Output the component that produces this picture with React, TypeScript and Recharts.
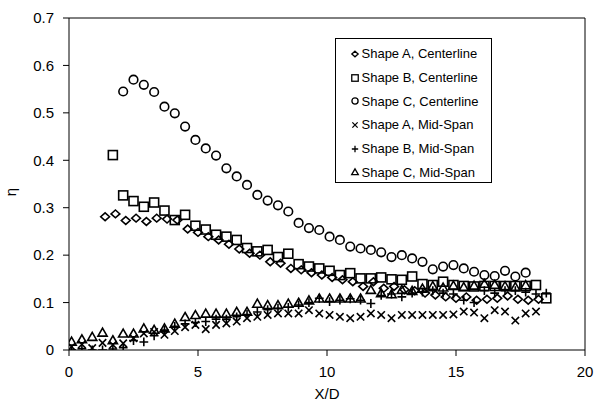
import React from 'react';
import { ScatterChart, Scatter, XAxis, YAxis, ReferenceLine, Legend } from 'recharts';

// [X/D, eta] pairs
const shapeACenterline: [number, number][] = [
  [1.4, 0.281], [1.8, 0.287], [2.2, 0.273], [2.6, 0.278], [3.0, 0.271], [3.4, 0.278], [3.8, 0.276], [4.2, 0.274],
  [4.6, 0.255], [5.0, 0.248], [5.4, 0.239], [5.8, 0.232], [6.2, 0.223], [6.6, 0.213], [7.0, 0.204], [7.4, 0.2],
  [7.8, 0.186], [8.2, 0.183], [8.6, 0.172], [9.0, 0.169], [9.4, 0.163], [9.8, 0.158], [10.2, 0.153], [10.6, 0.148],
  [11.0, 0.144], [11.4, 0.134], [11.8, 0.144], [12.2, 0.13], [12.6, 0.134], [13.0, 0.127], [13.4, 0.125], [13.8, 0.12],
  [14.2, 0.116], [14.6, 0.112], [15.0, 0.109], [15.4, 0.112], [15.8, 0.105], [16.2, 0.107], [16.6, 0.109], [17.0, 0.114],
  [17.4, 0.107], [17.8, 0.105], [18.2, 0.107],
];

const shapeBCenterline: [number, number][] = [
  [1.7, 0.411], [2.1, 0.326], [2.5, 0.314], [2.9, 0.302], [3.3, 0.311], [3.7, 0.294], [4.1, 0.274], [4.5, 0.285],
  [4.9, 0.262], [5.3, 0.254], [5.7, 0.243], [6.1, 0.239], [6.5, 0.232], [6.9, 0.215], [7.3, 0.208], [7.7, 0.211],
  [8.1, 0.196], [8.5, 0.203], [8.9, 0.181], [9.3, 0.176], [9.7, 0.172], [10.1, 0.167], [10.5, 0.158], [10.9, 0.162],
  [11.3, 0.151], [11.7, 0.151], [12.1, 0.153], [12.5, 0.149], [12.9, 0.148], [13.3, 0.155], [13.7, 0.139], [14.1, 0.137],
  [14.5, 0.144], [14.9, 0.137], [15.3, 0.135], [15.7, 0.134], [16.1, 0.135], [16.5, 0.135], [16.9, 0.135], [17.3, 0.135],
  [17.7, 0.135], [18.1, 0.137], [18.5, 0.109],
];

const shapeCCenterline: [number, number][] = [
  [2.1, 0.545], [2.5, 0.57], [2.9, 0.559], [3.3, 0.544], [3.7, 0.513], [4.1, 0.499], [4.5, 0.471], [4.9, 0.443],
  [5.3, 0.425], [5.7, 0.41], [6.1, 0.383], [6.5, 0.366], [6.9, 0.348], [7.3, 0.327], [7.7, 0.315], [8.1, 0.305],
  [8.5, 0.292], [8.9, 0.268], [9.3, 0.257], [9.7, 0.253], [10.1, 0.239], [10.5, 0.232], [10.9, 0.218], [11.3, 0.214],
  [11.7, 0.211], [12.1, 0.206], [12.5, 0.196], [12.9, 0.2], [13.3, 0.193], [13.7, 0.186], [14.1, 0.17], [14.5, 0.176],
  [14.9, 0.179], [15.3, 0.172], [15.7, 0.165], [16.1, 0.158], [16.5, 0.156], [16.9, 0.167], [17.3, 0.155], [17.7, 0.163],
];

const shapeAMidSpan: [number, number][] = [
  [0.1, 0.007], [0.5, 0.012], [0.9, 0.004], [1.3, 0.015], [1.7, 0.011], [2.1, 0.014], [2.5, 0.025], [2.9, 0.035],
  [3.3, 0.038], [3.7, 0.032], [4.1, 0.04], [4.5, 0.048], [4.9, 0.053], [5.3, 0.044], [5.7, 0.053], [6.1, 0.056],
  [6.5, 0.06], [6.9, 0.067], [7.3, 0.07], [7.7, 0.074], [8.1, 0.077], [8.5, 0.077], [8.9, 0.077], [9.3, 0.084],
  [9.7, 0.077], [10.1, 0.074], [10.5, 0.07], [10.9, 0.067], [11.3, 0.07], [11.7, 0.077], [12.1, 0.074], [12.5, 0.067],
  [12.9, 0.074], [13.3, 0.074], [13.7, 0.074], [14.1, 0.074], [14.5, 0.074], [14.9, 0.075], [15.3, 0.081], [15.7, 0.079],
  [16.1, 0.067], [16.5, 0.084], [16.9, 0.081], [17.3, 0.062], [17.7, 0.077], [18.1, 0.081],
];

const shapeBMidSpan: [number, number][] = [
  [0.1, 0.0], [0.5, 0.003], [0.9, 0.0], [1.3, 0.0], [1.7, 0.002], [2.1, 0.005], [2.5, 0.02], [2.9, 0.017],
  [3.3, 0.03], [3.7, 0.042], [4.1, 0.05], [4.5, 0.055], [4.9, 0.058], [5.3, 0.06], [5.7, 0.065], [6.1, 0.065],
  [6.5, 0.07], [6.9, 0.075], [7.3, 0.08], [7.7, 0.085], [8.1, 0.088], [8.5, 0.09], [8.9, 0.095], [9.3, 0.1],
  [9.7, 0.109], [10.1, 0.102], [10.5, 0.105], [10.9, 0.108], [11.3, 0.105], [11.7, 0.098], [12.1, 0.115], [12.5, 0.118],
  [12.9, 0.112], [13.3, 0.12], [13.7, 0.122], [14.1, 0.125], [14.5, 0.12], [14.9, 0.118], [15.3, 0.105], [15.7, 0.1],
  [16.1, 0.125], [16.5, 0.12], [16.9, 0.125], [17.3, 0.125], [17.7, 0.122], [18.1, 0.118], [18.5, 0.12],
];

const shapeCMidSpan: [number, number][] = [
  [0.1, 0.018], [0.5, 0.023], [0.9, 0.028], [1.3, 0.037], [1.7, 0.021], [2.1, 0.035], [2.5, 0.035], [2.9, 0.046],
  [3.3, 0.043], [3.7, 0.046], [4.1, 0.056], [4.5, 0.07], [4.9, 0.074], [5.3, 0.077], [5.7, 0.077], [6.1, 0.077],
  [6.5, 0.081], [6.9, 0.081], [7.3, 0.098], [7.7, 0.095], [8.1, 0.095], [8.5, 0.098], [8.9, 0.1], [9.3, 0.105],
  [9.7, 0.109], [10.1, 0.109], [10.5, 0.109], [10.9, 0.109], [11.3, 0.109], [11.7, 0.127], [12.1, 0.12], [12.5, 0.118],
  [12.9, 0.127], [13.3, 0.125], [13.7, 0.13], [14.1, 0.135], [14.5, 0.132], [14.9, 0.136], [15.3, 0.133], [15.7, 0.136],
  [16.1, 0.14], [16.5, 0.138], [16.9, 0.135], [17.3, 0.133], [17.7, 0.137],
];

const xTicks = [0, 5, 10, 15, 20];
const yTicks = [0, 0.1, 0.2, 0.3, 0.4, 0.5, 0.6, 0.7];

const seriesNames = [
  'Shape A, Centerline',
  'Shape B, Centerline',
  'Shape C, Centerline',
  'Shape A, Mid-Span',
  'Shape B, Mid-Span',
  'Shape C, Mid-Span',
];

const toPoints = (arr: [number, number][]) => arr.map(([x, eta]) => ({ x, eta }));

const INK = '#000';
const SW = 1.6;
const FONT = "'Liberation Sans', Arial, Helvetica, sans-serif";

type MarkerKind = 'diamond' | 'square' | 'circle' | 'cross' | 'plus' | 'triangle';

const Marker = ({ kind, cx, cy, s = 1, sw = SW }: { kind: MarkerKind; cx: number; cy: number; s?: number; sw?: number }) => {
  if (cx == null || cy == null) return null;
  const common = { fill: 'none', stroke: INK, strokeWidth: sw };
  switch (kind) {
    case 'diamond': {
      const w = 4.4 * s, h = 3.9 * s;
      return <path d={`M${cx} ${cy - h}L${cx + w} ${cy}L${cx} ${cy + h}L${cx - w} ${cy}Z`} {...common} />;
    }
    case 'square': {
      const h = 4.5 * s;
      return <rect x={cx - h} y={cy - h} width={2 * h} height={2 * h} {...common} />;
    }
    case 'circle':
      return <circle cx={cx} cy={cy} r={4.3 * s} {...common} />;
    case 'cross': {
      const h = 3.7 * s;
      return <path d={`M${cx - h} ${cy - h}L${cx + h} ${cy + h}M${cx - h} ${cy + h}L${cx + h} ${cy - h}`} {...common} />;
    }
    case 'plus': {
      const h = 4.4 * s;
      return <path d={`M${cx - h} ${cy}L${cx + h} ${cy}M${cx} ${cy - h}L${cx} ${cy + h}`} {...common} />;
    }
    case 'triangle': {
      const w = 4.6 * s, h = 4.3 * s;
      return <path d={`M${cx} ${cy - h}L${cx + w} ${cy + h * 0.85}L${cx - w} ${cy + h * 0.85}Z`} {...common} />;
    }
  }
  return null;
};

const kinds: MarkerKind[] = ['diamond', 'square', 'circle', 'cross', 'plus', 'triangle'];
const seriesData = [
  shapeACenterline,
  shapeBCenterline,
  shapeCCenterline,
  shapeAMidSpan,
  shapeBMidSpan,
  shapeCMidSpan,
];

const LegendBox = () => (
  <div
    style={{
      border: '1px solid #000',
      background: '#fff',
      width: 157,
      height: 145,
      boxSizing: 'border-box',
      paddingTop: 3,
      fontFamily: FONT,
      fontSize: 13,
      color: '#000',
    }}
  >
    {seriesNames.map((name, i) => (
      <div key={name} style={{ display: 'flex', alignItems: 'center', height: 23.7 }}>
        <svg width={10} height={10} style={{ marginLeft: 14, flex: 'none' }}>
          <Marker kind={kinds[i]} cx={5} cy={5} s={0.72} sw={1.3} />
        </svg>
        <span style={{ marginLeft: 1.5, whiteSpace: 'nowrap' }}>{name}</span>
      </div>
    ))}
  </div>
);

export default function App() {
  return (
    <div style={{ position: 'absolute', left: 0, top: 0, background: '#fff' }}>
      <ScatterChart width={603} height={402} margin={{ top: 18, right: 18, left: 0, bottom: 0 }}>
        <XAxis
          type="number"
          dataKey="x"
          domain={[0, 20]}
          ticks={xTicks}
          allowDataOverflow
          height={52}
          stroke={INK}
          tickSize={6}
          tickMargin={10}
          tick={{ fill: INK, fontSize: 15, fontFamily: FONT }}
          label={{ value: 'X/D', position: 'insideBottom', offset: 3, fill: INK, fontSize: 15, fontFamily: FONT }}
        />
        <YAxis
          type="number"
          dataKey="eta"
          domain={[0, 0.7]}
          ticks={yTicks}
          allowDataOverflow
          width={69}
          stroke={INK}
          tickSize={6}
          tickMargin={9}
          tick={{ fill: INK, fontSize: 15, fontFamily: FONT }}
          label={{
            content: (props: any) => {
              const vb = props.viewBox || { x: 0, y: 18, width: 69, height: 332 };
              const x = vb.x + 16;
              const y = vb.y + vb.height / 2 + 8;
              return (
                <text x={x} y={y} transform={`rotate(-90 ${x} ${y})`} textAnchor="middle" fill={INK} fontSize={15} fontFamily={FONT}>
                  η
                </text>
              );
            },
          }}
        />
        <ReferenceLine y={0.7} stroke={INK} strokeWidth={1} ifOverflow="visible" />
        <ReferenceLine x={20} stroke={INK} strokeWidth={1} ifOverflow="visible" />
        {seriesData.map((arr, i) => (
          <Scatter
            key={seriesNames[i]}
            name={seriesNames[i]}
            data={toPoints(arr)}
            isAnimationActive={false}
            shape={(p: any) => <Marker kind={kinds[i]} cx={p.cx} cy={p.cy} />}
          />
        ))}
        <Legend
          layout="vertical"
          align="center"
          verticalAlign="middle"
          wrapperStyle={{ position: 'absolute', left: 335, top: 38, width: 157, height: 145 }}
          content={() => <LegendBox />}
        />
      </ScatterChart>
    </div>
  );
}
